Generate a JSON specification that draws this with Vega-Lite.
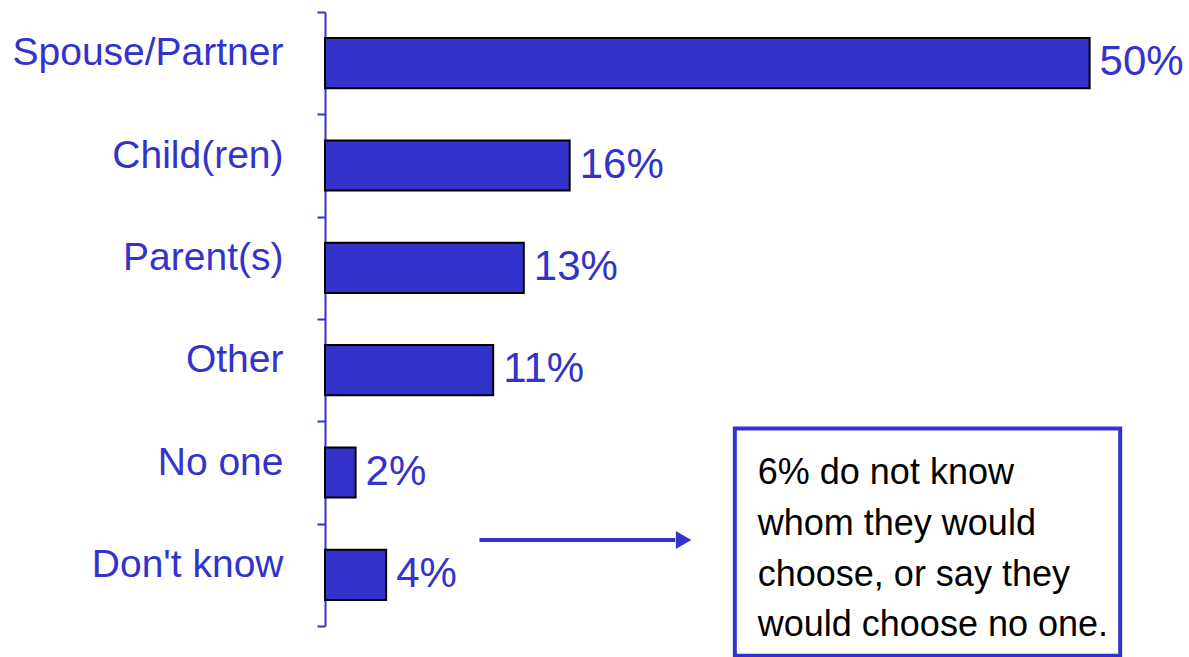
{
  "$schema": "https://vega.github.io/schema/vega-lite/v6.json",
  "width": 864,
  "height": 614,
  "autosize": "none",
  "padding": {"left": 325, "top": 12, "right": 0, "bottom": 31},
  "background": "white",
  "config": {
    "view": {"stroke": null},
    "font": "Liberation Sans"
  },
  "resolve": {"scale": {"y": "independent"}, "axis": {"y": "independent"}},
  "layer": [
    {
      "data": {
        "values": [
          {"who": "Spouse/Partner", "share": 0.50},
          {"who": "Child(ren)", "share": 0.16},
          {"who": "Parent(s)", "share": 0.13},
          {"who": "Other", "share": 0.11},
          {"who": "No one", "share": 0.02},
          {"who": "Don't know", "share": 0.04}
        ]
      },
      "encoding": {
        "y": {
          "field": "who",
          "type": "nominal",
          "sort": null,
          "scale": {"paddingInner": 0.51, "paddingOuter": 0.255},
          "axis": {
            "orient": "left",
            "title": null,
            "domain": false,
            "ticks": false,
            "tickSize": 0,
            "labelColor": "#3333CC",
            "labelFontSize": 39,
            "labelPadding": 42,
            "labelOffset": -10,
            "labelLimit": 400,
            "labelFont": "Liberation Sans"
          }
        },
        "x": {
          "field": "share",
          "type": "quantitative",
          "scale": {"domain": [0, 0.565], "nice": false},
          "axis": null
        }
      },
      "layer": [
        {
          "mark": {"type": "bar", "color": "#3333CC", "stroke": "black", "strokeWidth": 2}
        },
        {
          "mark": {
            "type": "text",
            "align": "left",
            "baseline": "middle",
            "dx": 10,
            "dy": -1,
            "fontSize": 42,
            "color": "#3333CC"
          },
          "encoding": {
            "text": {"field": "share", "type": "quantitative", "format": ".0%"}
          }
        }
      ]
    },
    {
      "data": {"values": [{}]},
      "encoding": {
        "y": {
          "datum": 5.16,
          "type": "quantitative",
          "scale": {"domain": [0, 6], "reverse": true, "nice": false, "zero": false},
          "axis": {
            "orient": "left",
            "title": null,
            "values": [0, 1, 2, 3, 4, 5, 6],
            "labels": false,
            "grid": false,
            "domainColor": "#3333CC",
            "domainWidth": 2,
            "tickColor": "#3333CC",
            "tickWidth": 2,
            "tickSize": 8
          }
        }
      },
      "layer": [
        {
          "mark": {"type": "rect", "fill": "white", "stroke": "#3333CC", "strokeWidth": 4},
          "encoding": {
            "x": {"datum": 0.268, "type": "quantitative"},
            "x2": {"datum": 0.520},
            "y": {"datum": 4.07, "type": "quantitative"},
            "y2": {"datum": 6.29}
          }
        },
        {
          "mark": {"type": "rule", "stroke": "#3333CC", "strokeWidth": 4},
          "encoding": {
            "x": {"datum": 0.101, "type": "quantitative"},
            "x2": {"datum": 0.229}
          }
        },
        {
          "mark": {"type": "point", "shape": "triangle-right", "filled": true, "color": "#3333CC", "opacity": 1, "size": 320},
          "encoding": {
            "x": {"datum": 0.2345, "type": "quantitative"}
          }
        },
        {
          "mark": {
            "type": "text",
            "align": "left",
            "baseline": "alphabetic",
            "fontSize": 36,
            "lineHeight": 50.7,
            "lineBreak": "\n",
            "color": "black"
          },
          "encoding": {
            "x": {"datum": 0.283, "type": "quantitative"},
            "y": {"datum": 4.614, "type": "quantitative"},
            "text": {"value": "6% do not know\nwhom they would\nchoose, or say they\nwould choose no one."}
          }
        }
      ]
    }
  ]
}
